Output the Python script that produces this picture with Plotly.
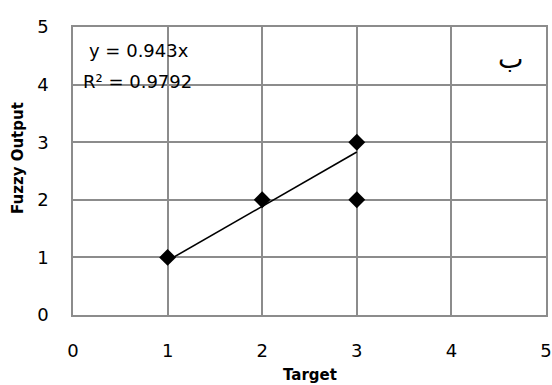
import plotly.graph_objects as go

# data
target = [1, 2, 3, 3]
fuzzy_output = [1, 2, 3, 2]
trend_slope = 0.943
r_squared = 0.9792
trend_x = [1, 3]
x_ticks = [0, 1, 2, 3, 4, 5]
y_ticks = [0, 1, 2, 3, 4, 5]

FONT = "DejaVu Sans"
GRID = "#8c8c8c"

fig = go.Figure()
fig.add_trace(go.Scatter(
    x=trend_x, y=[trend_slope * v for v in trend_x], mode="lines",
    line=dict(color="black", width=1.6), showlegend=False, hoverinfo="skip"))
fig.add_trace(go.Scatter(
    x=target, y=fuzzy_output, mode="markers",
    marker=dict(symbol="diamond", size=13, color="black"), showlegend=False))

axis_common = dict(range=[0, 5], showgrid=True, gridcolor=GRID, gridwidth=1.5,
                   zeroline=False, showline=True, linecolor=GRID, linewidth=1.5, mirror=True,
                   ticks="", automargin=False, fixedrange=True,
                   tickfont=dict(family=FONT, size=18, color="black"))

fig.update_layout(
    width=552, height=385,
    margin=dict(l=73, r=6, t=27, b=70, autoexpand=False),
    paper_bgcolor="white", plot_bgcolor="white",
    font=dict(family=FONT, size=18, color="black"),
    xaxis=dict(tickvals=x_ticks, ticklabelstandoff=19, **axis_common),
    yaxis=dict(tickvals=y_ticks, ticklabelstandoff=19, **axis_common),
    annotations=[
        dict(x=0.15, y=4.6, xref="x", yref="y", text=f"y = {trend_slope}x", showarrow=False,
             xanchor="left", yanchor="middle", font=dict(size=18)),
        dict(x=0.08, y=4.05, xref="x", yref="y", text=f"R² = {r_squared}", showarrow=False,
             xanchor="left", yanchor="middle", font=dict(size=18)),
        dict(x=4.62, y=4.45, xref="x", yref="y", text="ب", showarrow=False,
             xanchor="center", yanchor="middle", font=dict(size=27)),
        dict(x=0.5, y=(315 - 375) / 288, xref="paper", yref="paper", text="<b>Target</b>",
             showarrow=False, xanchor="center", yanchor="middle", font=dict(size=15)),
        dict(x=(18 - 73) / 473, y=(315 - 158) / 288, xref="paper", yref="paper",
             text="<b>Fuzzy Output</b>", showarrow=False, xanchor="center", yanchor="middle",
             textangle=-90, font=dict(size=15)),
    ],
)
fig.write_html("out.html", config={"displayModeBar": False},
               post_script="document.body.style.margin='0';document.body.style.padding='0';")
